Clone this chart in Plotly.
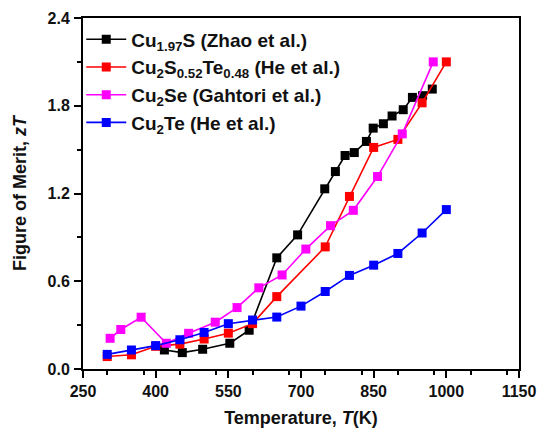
import plotly.graph_objects as go

# Data
T_cu197s = [418, 455, 497, 553, 593, 650, 693, 749, 771, 791, 810, 835, 849, 870, 888, 911, 930, 951, 971]
zT_cu197s = [0.13, 0.112, 0.135, 0.176, 0.265, 0.76, 0.917, 1.232, 1.35, 1.46, 1.48, 1.556, 1.647, 1.677, 1.73, 1.773, 1.857, 1.869, 1.914]

T_cu2ste = [300, 350, 400, 450, 500, 550, 600, 650, 750, 800, 850, 900, 950, 1000]
zT_cu2ste = [0.085, 0.097, 0.155, 0.17, 0.205, 0.245, 0.31, 0.495, 0.835, 1.18, 1.515, 1.57, 1.82, 2.10]

T_cu2se = [306, 328, 370, 422, 468, 523, 568, 613, 661, 710, 761, 808, 858, 909, 973]
zT_cu2se = [0.21, 0.27, 0.354, 0.176, 0.244, 0.32, 0.42, 0.555, 0.643, 0.82, 0.98, 1.085, 1.316, 1.608, 2.10]

T_cu2te = [300, 350, 400, 450, 500, 550, 600, 650, 700, 750, 800, 850, 900, 950, 1000]
zT_cu2te = [0.10, 0.13, 0.16, 0.20, 0.25, 0.31, 0.335, 0.355, 0.43, 0.53, 0.64, 0.71, 0.79, 0.93, 1.09]

names = [
    "Cu<sub>1.97</sub>S (Zhao et al.)",
    "Cu<sub>2</sub>S<sub>0.52</sub>Te<sub>0.48</sub> (He et al.)",
    "Cu<sub>2</sub>Se (Gahtori et al.)",
    "Cu<sub>2</sub>Te (He et al.)",
]
colors = ["#000000", "#FF0000", "#FF00FF", "#0000FF"]
series = [(T_cu197s, zT_cu197s), (T_cu2ste, zT_cu2ste), (T_cu2se, zT_cu2se), (T_cu2te, zT_cu2te)]

x_range = [250, 1150]
y_range = [0, 2.4]

FONT = "Arial, Liberation Sans, sans-serif"

fig = go.Figure()
for (xs, ys), nm, c in zip(series, names, colors):
    fig.add_trace(go.Scatter(
        x=xs, y=ys, name=nm, mode="lines+markers",
        line=dict(color=c, width=1.6),
        marker=dict(symbol="square", size=9, color=c),
        legendgroup=nm,
    ))

tickfont = dict(family=FONT, size=16, color="#111", weight="bold")
titlefont = dict(family=FONT, size=18, color="#111", weight="bold")

fig.update_layout(
    width=537, height=428,
    margin=dict(l=83, r=18, t=18, b=59),
    paper_bgcolor="white", plot_bgcolor="white",
    showlegend=True,
    legend=dict(
        x=-0.004, y=0.993, xanchor="left", yanchor="top",
        bgcolor="rgba(0,0,0,0)",
        font=dict(family=FONT, size=19, color="#111", weight="bold"),
        tracegroupgap=0,
        itemwidth=40,
    ),
    xaxis=dict(
        range=x_range, tick0=250, dtick=150, automargin=False,
        showgrid=False, zeroline=False,
        showline=True, linecolor="black", linewidth=2, mirror=True,
        ticks="outside", ticklen=7, tickwidth=2, tickcolor="black",
        minor=dict(ticks="outside", dtick=75, ticklen=4, tickwidth=2, tickcolor="black", showgrid=False),
        tickfont=tickfont,
        title=dict(text="Temperature, <i>T</i>(K)", font=titlefont, standoff=12),
    ),
    yaxis=dict(
        range=y_range, tick0=0, dtick=0.6, tickformat=".1f", automargin=False,
        showgrid=False, zeroline=False,
        showline=True, linecolor="black", linewidth=2, mirror=True,
        ticks="outside", ticklen=7, tickwidth=2, tickcolor="black",
        ticklabelstandoff=1,
        minor=dict(ticks="outside", dtick=0.3, ticklen=4, tickwidth=2, tickcolor="black", showgrid=False),
        tickfont=tickfont,
        title=dict(text="Figure of Merit, <i>zT</i>", font=titlefont, standoff=16),
    ),
    xaxis2=dict(
        overlaying="x", side="top", anchor="y", range=x_range, tick0=250, dtick=150, automargin=False,
        showgrid=False, zeroline=False, showline=False, showticklabels=False,
        ticks="inside", ticklen=7, tickwidth=2, tickcolor="black",
        minor=dict(ticks="inside", dtick=75, ticklen=4, tickwidth=2, tickcolor="black", showgrid=False),
    ),
    yaxis2=dict(
        overlaying="y", side="right", anchor="x", range=y_range, tick0=0, dtick=0.6, automargin=False,
        showgrid=False, zeroline=False, showline=False, showticklabels=False,
        ticks="inside", ticklen=7, tickwidth=2, tickcolor="black",
        minor=dict(ticks="inside", dtick=0.3, ticklen=4, tickwidth=2, tickcolor="black", showgrid=False),
    ),
)

# Remove the browser's default 8px body margin so the 537x428 figure fills the window
fig.write_html(
    "out.html",
    config={"displayModeBar": False},
    post_script="document.body.style.margin='0';document.body.style.overflow='hidden';",
)
